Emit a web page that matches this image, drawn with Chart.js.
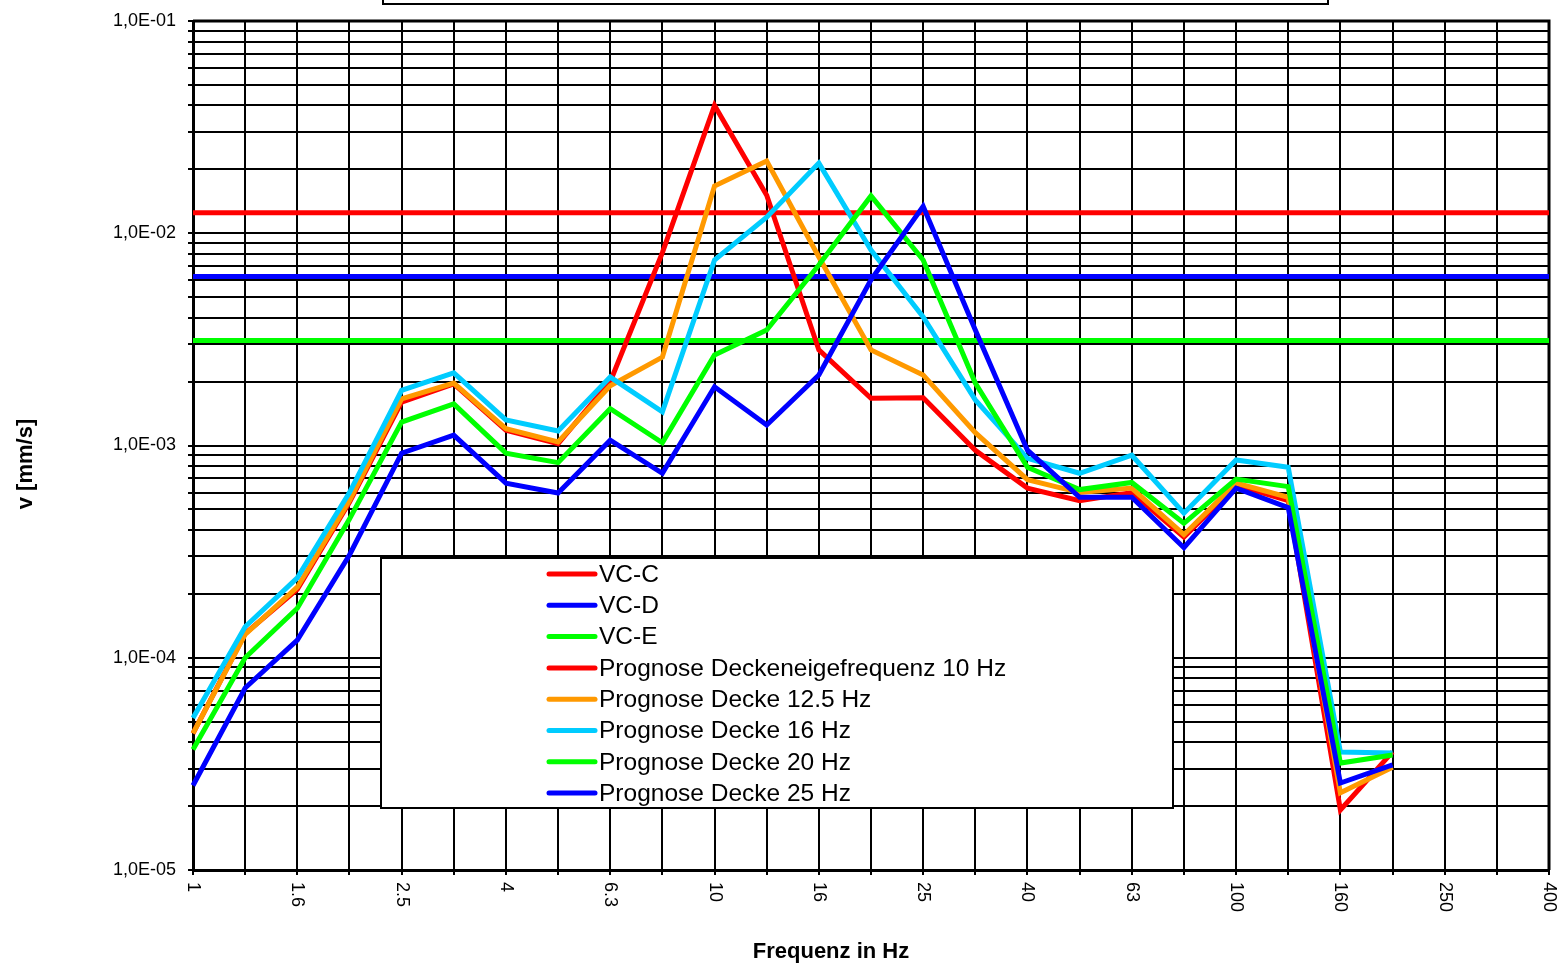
<!DOCTYPE html>
<html>
<head>
<meta charset="utf-8">
<script src="https://cdn.jsdelivr.net/npm/chart.js@4.4.1/dist/chart.umd.min.js"></script>
<style>
  body { margin: 0; background: #fff; }
  #wrap { width: 1558px; height: 964px; }
</style>
</head>
<body>
<div id="wrap"><canvas id="chart" width="1558" height="964"></canvas></div>
<script>
// third-octave bands (x categories)
const freqs = ['1', '1.25', '1.6', '2', '2.5', '3.15', '4', '5', '6.3', '8', '10', '12.5', '16', '20',
               '25', '31.5', '40', '50', '63', '80', '100', '125', '160', '200', '250', '315', '400'];
const xTickShown = ['1', '1.6', '2.5', '4', '6.3', '10', '16', '25', '40', '63', '100', '160', '250', '400'];

// y ticks (log), labels only on decades
const yDecades = [1e-5, 1e-4, 1e-3, 1e-2, 1e-1];
const yMinorSteps = [1, 2, 3, 4, 5, 6, 7, 8, 9];

// VC criteria in mm/s
const vcC = 0.0125;
const vcD = 0.00625;
const vcE = 0.003125;

// Prognose, 1 Hz .. 200 Hz
const prog10 = [4.4e-5, 1.3e-4, 2.1e-4, 5.4e-4, 1.6e-3, 1.95e-3, 1.18e-3, 1.02e-3, 2.0e-3, 8.1e-3, 4.0e-2, 1.51e-2,
                2.82e-3, 1.67e-3, 1.68e-3, 9.5e-4, 6.3e-4, 5.5e-4, 6.0e-4, 3.7e-4, 6.5e-4, 5.5e-4, 1.92e-5, 3.6e-5];
const prog12 = [4.4e-5, 1.29e-4, 2.15e-4, 5.5e-4, 1.66e-3, 1.97e-3, 1.20e-3, 1.04e-3, 1.91e-3, 2.61e-3, 1.67e-2, 2.19e-2,
                7.73e-3, 2.82e-3, 2.15e-3, 1.15e-3, 6.9e-4, 6.0e-4, 6.3e-4, 3.8e-4, 6.65e-4, 5.7e-4, 2.31e-5, 3.05e-5];
const prog16 = [5.2e-5, 1.40e-4, 2.38e-4, 6.0e-4, 1.82e-3, 2.20e-3, 1.32e-3, 1.17e-3, 2.10e-3, 1.44e-3, 7.48e-3, 1.19e-2,
                2.14e-2, 8.34e-3, 4.03e-3, 1.64e-3, 8.7e-4, 7.4e-4, 9.0e-4, 4.8e-4, 8.55e-4, 7.9e-4, 3.6e-5, 3.56e-5];
const prog20 = [3.7e-5, 1.0e-4, 1.71e-4, 4.5e-4, 1.29e-3, 1.57e-3, 9.2e-4, 8.3e-4, 1.49e-3, 1.03e-3, 2.67e-3, 3.50e-3,
                7.08e-3, 1.50e-2, 7.48e-3, 1.97e-3, 7.9e-4, 6.2e-4, 6.7e-4, 4.3e-4, 6.95e-4, 6.4e-4, 3.19e-5, 3.48e-5];
const prog25 = [2.5e-5, 7.2e-5, 1.21e-4, 3.05e-4, 9.2e-4, 1.12e-3, 6.65e-4, 5.97e-4, 1.06e-3, 7.4e-4, 1.89e-3, 1.25e-3,
                2.15e-3, 6.03e-3, 1.34e-2, 3.50e-3, 9.5e-4, 5.7e-4, 5.7e-4, 3.3e-4, 6.3e-4, 5.1e-4, 2.57e-5, 3.13e-5];

const FONT = "'Liberation Sans', Arial, sans-serif";
const RED = '#ff0000', BLUE = '#0000ff', GREEN = '#00ff00', ORANGE = '#ff9900', CYAN = '#00ccff';

const yTicks = [];
yDecades.forEach(d => yMinorSteps.forEach(s => { if (s * d <= 0.1 + 1e-12) yTicks.push(s * d); }));

function flat(v) {
  return [{x: freqs[0], y: v}, {x: freqs[freqs.length - 1], y: v}];
}

const series = [
  {label: 'VC-C', data: flat(vcC), color: RED},
  {label: 'VC-D', data: flat(vcD), color: BLUE},
  {label: 'VC-E', data: flat(vcE), color: GREEN},
  {label: 'Prognose Deckeneigefrequenz 10 Hz', data: prog10, color: RED},
  {label: 'Prognose Decke 12.5 Hz', data: prog12, color: ORANGE},
  {label: 'Prognose Decke 16 Hz', data: prog16, color: CYAN},
  {label: 'Prognose Decke 20 Hz', data: prog20, color: GREEN},
  {label: 'Prognose Decke 25 Hz', data: prog25, color: BLUE}
];

// frame, rotated x labels, axis titles, legend box, empty title box
const decor = {
  id: 'decor',
  beforeDatasetsDraw(chart) {
    const {ctx, chartArea: a} = chart;
    ctx.save();
    ctx.strokeStyle = '#000';
    ctx.lineWidth = 3;
    ctx.beginPath();
    ctx.moveTo(a.left, a.top);
    ctx.lineTo(a.right, a.top);
    ctx.lineTo(a.right, a.bottom);
    ctx.stroke();
    ctx.restore();
  },
  afterDraw(chart) {
    const {ctx, chartArea: a} = chart;
    const xs = chart.scales.x;
    ctx.save();
    ctx.fillStyle = '#000';

    // x tick labels, rotated clockwise
    ctx.font = '18px ' + FONT;
    ctx.textAlign = 'left';
    ctx.textBaseline = 'middle';
    freqs.forEach((f, i) => {
      if (!xTickShown.includes(f)) return;
      const x = xs.getPixelForValue(i);
      ctx.save();
      ctx.translate(x, a.bottom + 12);
      ctx.rotate(Math.PI / 2);
      ctx.fillText(f, 0, 0);
      ctx.restore();
    });

    // axis titles
    ctx.font = 'bold 22px ' + FONT;
    ctx.textAlign = 'center';
    ctx.textBaseline = 'alphabetic';
    ctx.fillText('Frequenz in Hz', 831, 958);
    ctx.save();
    ctx.translate(32, 464);
    ctx.rotate(-Math.PI / 2);
    ctx.fillText('v [mm/s]', 0, 0);
    ctx.restore();

    // empty title box, cut at top
    ctx.strokeStyle = '#000';
    ctx.lineWidth = 2;
    ctx.strokeRect(383, -20, 945, 24);

    // legend box
    ctx.fillStyle = '#fff';
    ctx.fillRect(381, 558, 792, 250);
    ctx.strokeRect(381, 558, 792, 250);
    ctx.font = '24.5px ' + FONT;
    ctx.textAlign = 'left';
    ctx.textBaseline = 'middle';
    chart.data.datasets.forEach((ds, i) => {
      const y = 574 + i * 31.3;
      ctx.strokeStyle = ds.borderColor;
      ctx.lineWidth = 5;
      ctx.lineCap = 'round';
      ctx.beginPath();
      ctx.moveTo(549, y);
      ctx.lineTo(595, y);
      ctx.stroke();
      ctx.fillStyle = '#000';
      ctx.fillText(ds.label, 599, y + 1);
    });
    ctx.restore();
  }
};

const config = {
  type: 'line',
  data: {
    labels: freqs,
    datasets: series.map((s, i) => ({
      label: s.label,
      data: s.data,
      borderColor: s.color,
      backgroundColor: s.color,
      borderWidth: 5,
      pointRadius: 0,
      tension: 0,
      fill: false,
      order: series.length - i
    }))
  },
  options: {
    responsive: false,
    animation: false,
    layout: { padding: { left: 0, top: 21, right: 9, bottom: 0 } },
    plugins: {
      legend: { display: false },
      tooltip: { enabled: false },
      title: { display: false }
    },
    scales: {
      x: {
        type: 'category',
        offset: false,
        grid: { color: '#000', lineWidth: 2, tickLength: 5, offset: false },
        border: { color: '#000', width: 3 },
        ticks: { display: false, autoSkip: false },
        afterFit(scale) {
          scale.height = 94;
          scale.paddingLeft = 0;
          scale.paddingRight = 0;
        }
      },
      y: {
        type: 'logarithmic',
        min: 1e-5,
        max: 1e-1,
        grid: { color: '#000', lineWidth: 2, tickLength: 5 },
        border: { color: '#000', width: 3 },
        ticks: {
          autoSkip: false,
          padding: 12,
          color: '#000',
          font: { family: FONT, size: 18 },
          callback(v) {
            const e = Math.log10(v);
            if (Math.abs(e - Math.round(e)) > 1e-6) return '';
            return '1,0E-' + String(-Math.round(e)).padStart(2, '0');
          }
        },
        afterBuildTicks(scale) {
          scale.ticks = yTicks.map(v => ({ value: v }));
        },
        afterFit(scale) {
          scale.width = 193;
          scale.paddingTop = 0;
          scale.paddingBottom = 0;
        }
      }
    }
  },
  plugins: [decor]
};

const chart = new Chart(document.getElementById('chart'), config);
</script>
</body>
</html>
